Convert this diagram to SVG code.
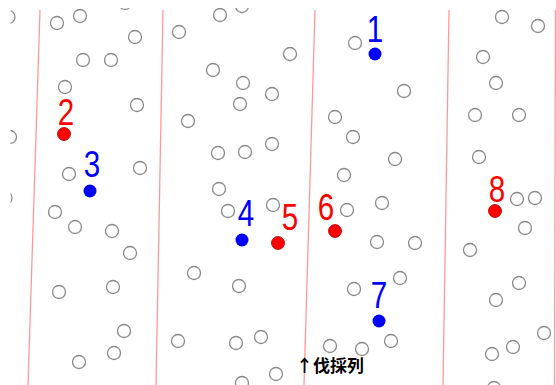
<svg xmlns="http://www.w3.org/2000/svg" width="556" height="385" viewBox="0 0 556 385">
<style>
.row{stroke:#ff9999;stroke-width:1.3;fill:none}
.t{fill:#fff;stroke:#8a8a8a;stroke-width:1.3}
.b{fill:#0000ff}
.r{fill:#ff0000;stroke:#b00000;stroke-width:0.8}
.lb{font-family:"Liberation Sans",Arial,sans-serif;font-size:37px;text-anchor:middle}
.lbb{fill:#0000ff}
.lbr{fill:#ff0000}
.cap{font-family:"Noto Sans CJK JP","Noto Sans CJK SC",sans-serif;font-size:17px;font-weight:bold;fill:#000}
</style>
<defs>
<clipPath id="area"><rect x="10.5" y="8" width="546" height="378"/></clipPath>
</defs>
<rect width="556" height="385" fill="#fff"/>
<g id="rows">
<line class="row" x1="40" y1="10" x2="28" y2="385"/>
<line class="row" x1="163" y1="10" x2="156" y2="385"/>
<line class="row" x1="315" y1="10" x2="304" y2="385"/>
<line class="row" x1="449" y1="10" x2="443" y2="385"/>
<line class="row" x1="555.5" y1="10" x2="554.5" y2="385"/>
</g>
<g id="trees" clip-path="url(#area)">
<circle class="t" r="6.5" cx="8.5" cy="17"/>
<circle class="t" r="6.5" cx="57" cy="23"/>
<circle class="t" r="6.5" cx="80" cy="16"/>
<circle class="t" r="6.5" cx="125" cy="3"/>
<circle class="t" r="6.5" cx="135" cy="37"/>
<circle class="t" r="6.5" cx="83" cy="60"/>
<circle class="t" r="6.5" cx="111" cy="60"/>
<circle class="t" r="6.5" cx="65" cy="87"/>
<circle class="t" r="6.5" cx="137" cy="105"/>
<circle class="t" r="6.5" cx="179" cy="32"/>
<circle class="t" r="6.5" cx="188" cy="121"/>
<circle class="t" r="6.5" cx="220" cy="15"/>
<circle class="t" r="6.5" cx="242" cy="6"/>
<circle class="t" r="6.5" cx="290" cy="54"/>
<circle class="t" r="6.5" cx="213" cy="70"/>
<circle class="t" r="6.5" cx="243" cy="83"/>
<circle class="t" r="6.5" cx="272" cy="94"/>
<circle class="t" r="6.5" cx="240" cy="104"/>
<circle class="t" r="6.5" cx="355" cy="43"/>
<circle class="t" r="6.5" cx="335" cy="117"/>
<circle class="t" r="6.5" cx="404" cy="91"/>
<circle class="t" r="6.5" cx="502" cy="17"/>
<circle class="t" r="6.5" cx="538" cy="26"/>
<circle class="t" r="6.5" cx="483" cy="57"/>
<circle class="t" r="6.5" cx="496" cy="83"/>
<circle class="t" r="6.5" cx="475" cy="115"/>
<circle class="t" r="6.5" cx="519" cy="115"/>
<circle class="t" r="6.5" cx="10" cy="137"/>
<circle class="t" r="6.5" cx="69" cy="174"/>
<circle class="t" r="6.5" cx="140" cy="168"/>
<circle class="t" r="6.5" cx="5.5" cy="198"/>
<circle class="t" r="6.5" cx="55" cy="212"/>
<circle class="t" r="6.5" cx="75" cy="227"/>
<circle class="t" r="6.5" cx="112" cy="231"/>
<circle class="t" r="6.5" cx="130" cy="253"/>
<circle class="t" r="6.5" cx="218" cy="153"/>
<circle class="t" r="6.5" cx="245" cy="152"/>
<circle class="t" r="6.5" cx="272" cy="144"/>
<circle class="t" r="6.5" cx="219" cy="189"/>
<circle class="t" r="6.5" cx="228" cy="211"/>
<circle class="t" r="6.5" cx="273" cy="205"/>
<circle class="t" r="6.5" cx="353" cy="137"/>
<circle class="t" r="6.5" cx="344" cy="175"/>
<circle class="t" r="6.5" cx="347" cy="210"/>
<circle class="t" r="6.5" cx="377" cy="242"/>
<circle class="t" r="6.5" cx="395" cy="159"/>
<circle class="t" r="6.5" cx="382" cy="203"/>
<circle class="t" r="6.5" cx="415" cy="243"/>
<circle class="t" r="6.5" cx="479" cy="157"/>
<circle class="t" r="6.5" cx="517" cy="199"/>
<circle class="t" r="6.5" cx="535" cy="198"/>
<circle class="t" r="6.5" cx="525" cy="228"/>
<circle class="t" r="6.5" cx="470" cy="250"/>
<circle class="t" r="6.5" cx="59" cy="292"/>
<circle class="t" r="6.5" cx="113" cy="287"/>
<circle class="t" r="6.5" cx="124" cy="331"/>
<circle class="t" r="6.5" cx="114" cy="353"/>
<circle class="t" r="6.5" cx="79" cy="362"/>
<circle class="t" r="6.5" cx="178" cy="341"/>
<circle class="t" r="6.5" cx="194" cy="273"/>
<circle class="t" r="6.5" cx="239" cy="286"/>
<circle class="t" r="6.5" cx="236" cy="343"/>
<circle class="t" r="6.5" cx="261" cy="337"/>
<circle class="t" r="6.5" cx="276" cy="374"/>
<circle class="t" r="6.5" cx="242" cy="383"/>
<circle class="t" r="6.5" cx="354" cy="289"/>
<circle class="t" r="6.5" cx="330" cy="346"/>
<circle class="t" r="6.5" cx="362" cy="349"/>
<circle class="t" r="6.5" cx="400" cy="278"/>
<circle class="t" r="6.5" cx="391" cy="341"/>
<circle class="t" r="6.5" cx="519" cy="283"/>
<circle class="t" r="6.5" cx="496" cy="300"/>
<circle class="t" r="6.5" cx="544" cy="333"/>
<circle class="t" r="6.5" cx="513" cy="347"/>
<circle class="t" r="6.5" cx="492" cy="354"/>
<circle class="t" r="6.5" cx="494" cy="388"/>
</g>
<g id="tree1"><circle class="b" cx="375" cy="54" r="6.5"/><text class="lb lbb" transform="translate(375,42) scale(0.8,1)">1</text></g>
<g id="tree2"><circle class="r" cx="64" cy="134" r="6.5"/><text class="lb lbr" transform="translate(66,125) scale(0.8,1)">2</text></g>
<g id="tree3"><circle class="b" cx="90" cy="191" r="6.5"/><text class="lb lbb" transform="translate(92,177) scale(0.8,1)">3</text></g>
<g id="tree4"><circle class="b" cx="242" cy="240" r="6.5"/><text class="lb lbb" transform="translate(246,226) scale(0.8,1)">4</text></g>
<g id="tree5"><circle class="r" cx="278" cy="243" r="6.5"/><text class="lb lbr" transform="translate(290,230) scale(0.8,1)">5</text></g>
<g id="tree6"><circle class="r" cx="335" cy="231" r="6.5"/><text class="lb lbr" transform="translate(326,220) scale(0.8,1)">6</text></g>
<g id="tree7"><circle class="b" cx="379" cy="321" r="6.5"/><text class="lb lbb" transform="translate(379,308) scale(0.8,1)">7</text></g>
<g id="tree8"><circle class="r" cx="495" cy="211" r="6.5"/><text class="lb lbr" transform="translate(497,202) scale(0.8,1)">8</text></g>
<text class="cap" x="296" y="372">↑伐採列</text>
</svg>
